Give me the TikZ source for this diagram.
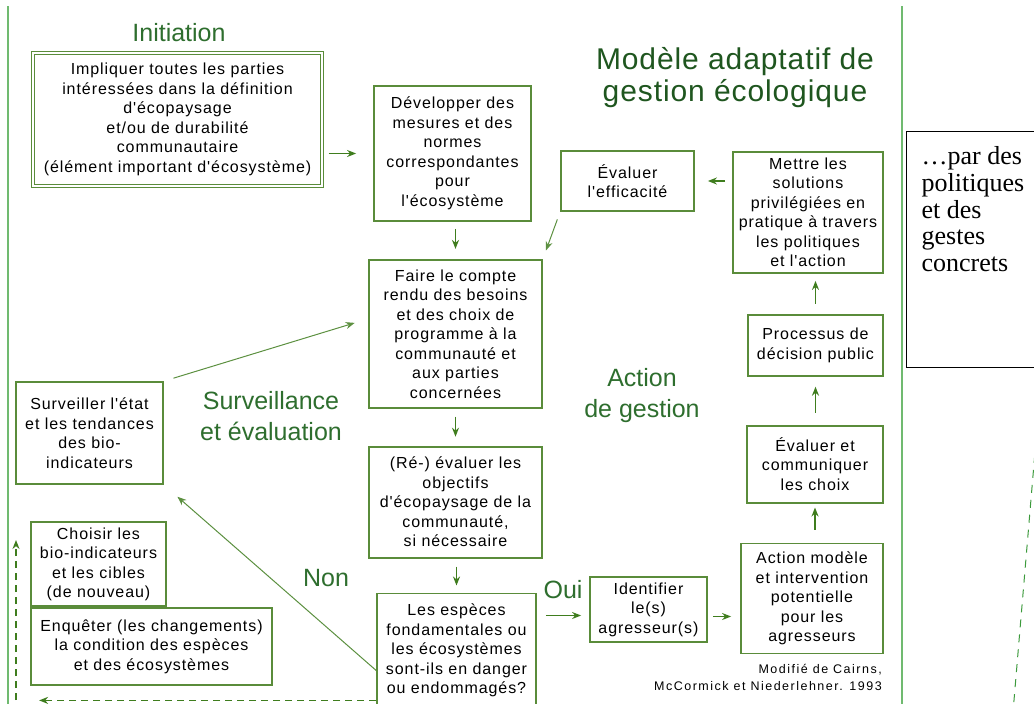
\documentclass[tikz,border=0pt]{standalone}
\usepackage{fontspec}
\setmainfont{Liberation Sans}
\newfontfamily\boxfont[LetterSpace=5.8]{Liberation Sans}
\newfontfamily\titlefont[LetterSpace=3]{Liberation Sans}
\newfontfamily\citefont[LetterSpace=12]{Liberation Sans}
\newfontfamily\notefont{Liberation Serif}
\usepackage{tikz}
\usetikzlibrary{arrows.meta}
\usetikzlibrary{positioning}
\definecolor{boxgreen}{HTML}{5A8C3A}
\definecolor{arrowgreen}{HTML}{3F7D1E}
\definecolor{titlegreen}{HTML}{2E6E2E}
\definecolor{deepgreen}{HTML}{1F561F}
\definecolor{railgreen}{HTML}{70BA70}
\definecolor{tailgreen}{HTML}{3C9A3C}
\tikzset{
    box/.style = {draw=boxgreen, line width=1.8pt, fill=white, align=center, inner sep=2pt,
                  text=black, font=\boxfont\fontsize{16}{19.5}\selectfont},
    phase/.style = {text=titlegreen, align=center, inner sep=0pt, font=\fontsize{25}{31}\selectfont},
    heading/.style = {text=deepgreen, align=center, inner sep=0pt, font=\titlefont\fontsize{30}{32}\selectfont},
    cite/.style = {align=right, inner sep=0pt, text=black, font=\citefont\fontsize{12.5}{17}\selectfont},
    notebox/.style = {draw=black, line width=1.3pt, inner xsep=15pt, inner ysep=5pt,
                  font=\notefont\fontsize{26}{26.7}\selectfont},
    arr/.style = {->, draw=arrowgreen, line width=1.9pt},
    thinarr/.style = {->, draw=arrowgreen!85, line width=1pt},
    backarr/.style = {->, draw=arrowgreen, line width=1.5pt, dash pattern=on 7pt off 5pt},
    taildash/.style = {draw=tailgreen, line width=1pt, dash pattern=on 8pt off 7pt},
    rail/.style = {draw=railgreen, line width=2.5pt},
}

\begin{document}
\begin{tikzpicture}[x=1pt, y=-1pt, >={Stealth[length=9pt,width=7pt]}]
\useasboundingbox (0,0) rectangle (1034,704);

\draw[rail] (8,6) -- (8,712);
\draw[rail] (902,6) -- (902,712);

\node (initiation) [phase] at (179,33) {Initiation};
\node (modele) [heading] at (735,78) {Modèle adaptatif de\\gestion écologique};

\node (impl) [box, double, line width=1.1pt, double distance=1.6pt,
  minimum width=289pt, minimum height=133pt] at (177.5,119.5)
  {Impliquer toutes les parties\\intéressées dans la définition\\d'écopaysage\\et/ou de durabilité\\communautaire\\(élément important d'écosystème)};
\node (dev) [box, minimum width=157pt, minimum height=135pt] at (452.5,153.5)
  {Développer des\\mesures et des\\normes\\correspondantes\\pour\\l'écosystème};
\node (faire) [box, minimum width=173pt, minimum height=148pt, below=37pt of dev, xshift=3pt]
  {Faire le compte\\rendu des besoins\\et des choix de\\programme à la\\communauté et\\aux parties\\concernées};
\node (reeval) [box, minimum width=173pt, minimum height=111pt, below=37pt of faire]
  {(Ré-) évaluer les\\objectifs\\d'écopaysage de la\\communauté,\\si nécessaire};
\node (especes) [box, minimum width=159pt, minimum height=114pt, below=34pt of reeval, xshift=1pt]
  {Les espèces\\fondamentales ou\\les écosystèmes\\sont-ils en danger\\ou endommagés?};

\node (eff) [box, minimum width=133pt, minimum height=60pt] at (627.5,181) {Évaluer\\l'efficacité};
\node (mettre) [box, minimum width=150pt, minimum height=121pt] at (808,212.5)
  {Mettre les\\solutions\\privilégiées en\\pratique à travers\\les politiques\\et l'action};
\node (proc) [box, minimum width=135pt, minimum height=61pt, below=40pt of mettre.south east, anchor=north east]
  {Processus de\\décision public};
\node (comm) [box, minimum width=136pt, minimum height=77pt, below=48pt of proc.south east, anchor=north east]
  {Évaluer et\\communiquer\\les choix};
\node (action) [box, minimum width=142pt, minimum height=110pt, below=39pt of comm.south east, anchor=north east]
  {Action modèle\\et intervention\\potentielle\\pour les\\agresseurs};
\node (ident) [box, minimum width=117pt, minimum height=65pt] at (648.5,609.5) {Identifier\\le(s)\\agresseur(s)};

\node (surv) [box, minimum width=147pt, minimum height=102pt] at (89.5,433)
  {Surveiller l'état\\et les tendances\\des bio-\\indicateurs};
\node (enquete) [box, minimum width=241pt, minimum height=77pt] at (151.5,646.5)
  {Enquêter (les changements)\\la condition des espèces\\et des écosystèmes};
\node (choisir) [box, minimum width=135pt, minimum height=84pt, anchor=south west] at (enquete.north west)
  {Choisir les\\bio-indicateurs\\et les cibles\\(de nouveau)};

\node (surveillance) [phase] at (271,416) {Surveillance\\et évaluation};
\node (gestion) [phase] at (642,396) {Action\\de gestion};
\node (non) [phase] at (326,578) {Non};
\node (oui) [phase] at (563,590) {Oui};
\node (source) [cite, anchor=north east] at (882,664) {Modifié de Cairns,\\McCormick et Niederlehner. 1993};

\node (note) [notebox, anchor=north west] at (906,131)
  {\parbox[c][226pt][t]{140pt}{\vspace*{10pt}\raggedright …par des\\politiques\\et des\\gestes\\concrets}};

\draw[arr, shorten <=6pt, shorten >=17pt] (impl.east |- dev) to (dev.west);
\draw[arr, shorten <=7pt, shorten >=10pt] (faire |- dev.south) to (faire.north);
\draw[arr, shorten <=7pt, shorten >=13pt] (mettre.west |- eff) to (eff.east);
\draw[thinarr, shorten <=8pt, shorten >=9pt] (eff.south west) to (faire.north east);
\draw[arr, shorten <=8pt, shorten >=9pt] (faire.south) to (reeval.north);
\draw[arr, shorten <=8pt, shorten >=7pt] (reeval.south -| especes) to (especes.north);
\coordinate (yes) at ([yshift=-6pt]ident.west);
\draw[arr, shorten <=9pt, shorten >=8pt] (especes.east |- yes) to (yes);
\coordinate (stress) at ([yshift=-7pt]ident.east);
\draw[arr, shorten <=5pt, shorten >=9pt] (stress) to (stress -| action.west);
\draw[arr, shorten <=13pt, shorten >=4pt] (comm |- action.north) to (comm.south);
\draw[arr, shorten <=12pt, shorten >=10pt] (proc |- comm.north) to (proc.south);
\draw[arr, shorten <=10pt, shorten >=7pt] (proc.north) to (proc |- mettre.south);

\coordinate (report) at ([yshift=15pt]faire.west);
\draw[thinarr, shorten <=10pt, shorten >=14pt] (surv.north east) to (report);
\coordinate (no) at ([yshift=-20pt]especes.west);
\draw[thinarr, shorten >=18pt] (no) to (surv.south east);
\coordinate (back) at ([yshift=-50pt]especes.west);
\draw[backarr, shorten >=9pt] (back) to (back -| enquete.west);
\coordinate (loopfoot) at (16,712);
\coordinate (looptop) at (16,540);
\draw[backarr] (loopfoot) to (looptop);
\coordinate (tailtop) at (1036,440);
\coordinate (tailfoot) at (1013,712);
\draw[taildash] (tailtop) to (tailfoot);
\end{tikzpicture}
\end{document}
